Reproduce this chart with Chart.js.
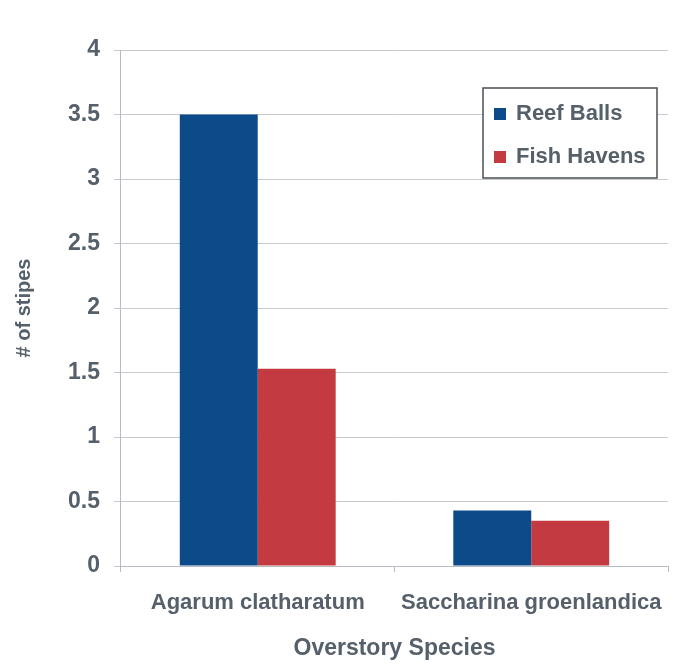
<!DOCTYPE html>
<html>
<head>
<meta charset="utf-8">
<script src="https://cdn.jsdelivr.net/npm/chart.js@4/dist/chart.umd.min.js"></script>
<style>
  html, body { margin: 0; padding: 0; background: #fff; }
  #wrap { width: 673px; height: 667px; }
</style>
</head>
<body>
<div id="wrap"><canvas id="stipes"></canvas></div>
<script>
// species and counts per structure type
const species = ['Agarum clatharatum', 'Saccharina groenlandica'];
const reefBalls = [3.5, 0.43];
const fishHavens = [1.53, 0.35];
const seriesNames = ['Reef Balls', 'Fish Havens'];
const seriesColors = ['#0d4a8a', '#c33b40'];
const yTicks = ['0', '0.5', '1', '1.5', '2', '2.5', '3', '3.5', '4'];

const textColor = '#56606a';
const fontFamily = '"Liberation Sans", Arial, sans-serif';

// legend box drawn inside the plot, top right
const boxLegend = {
    id: 'boxLegend',
    afterDraw(chart) {
        const ctx = chart.ctx;
        const x = 483, y = 88, w = 174, h = 90;
        ctx.save();
        ctx.fillStyle = '#fff';
        ctx.fillRect(x, y, w, h);
        ctx.strokeStyle = '#4a4f55';
        ctx.lineWidth = 1.5;
        ctx.strokeRect(x, y, w, h);
        ctx.font = 'bold 22px ' + fontFamily;
        ctx.textBaseline = 'middle';
        chart.data.datasets.forEach((ds, i) => {
            const cy = y + 26 + i * 43;
            ctx.fillStyle = ds.backgroundColor;
            ctx.fillRect(x + 11, cy - 6, 12, 12);
            ctx.fillStyle = textColor;
            ctx.fillText(ds.label, x + 33, cy);
        });
        ctx.restore();
    }
};

new Chart(document.getElementById('stipes'), {
    type: 'bar',
    data: {
        labels: species,
        datasets: [
            { label: seriesNames[0], data: reefBalls, backgroundColor: seriesColors[0] },
            { label: seriesNames[1], data: fishHavens, backgroundColor: seriesColors[1] }
        ]
    },
    options: {
        responsive: true,
        maintainAspectRatio: false,
        animation: false,
        layout: { padding: { top: 50, right: 5, left: 12, bottom: 5 } },
        categoryPercentage: 0.57,
        barPercentage: 1.0,
        plugins: {
            legend: { display: false },
            tooltip: { enabled: false }
        },
        scales: {
            x: {
                // long last label may run into the right margin
                afterFit: (scale) => { scale.paddingRight = 0; },
                grid: {
                    offset: true,
                    drawOnChartArea: false,
                    tickLength: 6,
                    color: '#b8bcc2'
                },
                border: { color: '#b8bcc2' },
                ticks: {
                    color: textColor,
                    font: { family: fontFamily, size: 22, weight: 'bold' },
                    padding: 18
                },
                title: {
                    display: true,
                    text: 'Overstory Species',
                    color: textColor,
                    font: { family: fontFamily, size: 23, weight: 'bold' },
                    padding: { top: 0, bottom: 0 }
                }
            },
            y: {
                min: 0,
                max: 4,
                ticks: {
                    stepSize: 0.5,
                    color: textColor,
                    font: { family: fontFamily, size: 23, weight: 'bold' },
                    padding: 14,
                    callback: (v, i) => yTicks[i]
                },
                grid: {
                    color: '#c6cacf',
                    tickLength: 7
                },
                border: { color: '#b8bcc2' },
                title: {
                    display: true,
                    text: '# of stipes',
                    color: textColor,
                    font: { family: fontFamily, size: 20, weight: 'bold' },
                    padding: { top: 0, bottom: 18 }
                }
            }
        }
    },
    plugins: [boxLegend]
});
</script>
</body>
</html>
